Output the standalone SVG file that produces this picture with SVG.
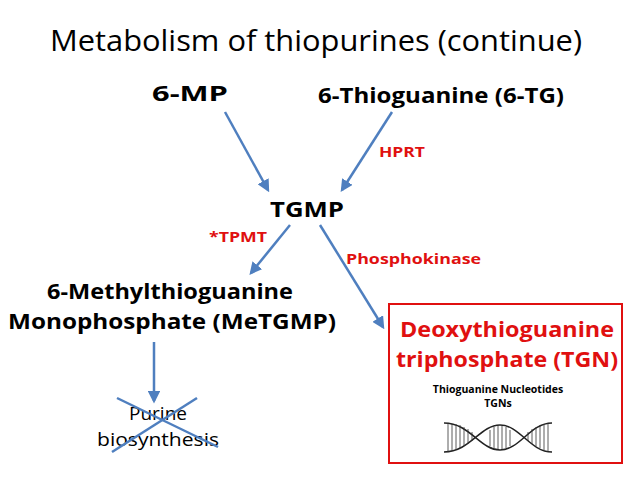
<svg xmlns="http://www.w3.org/2000/svg" width="638" height="479" viewBox="0 0 638 479">
<defs>
<style>
text{font-family:"Open Sans","Liberation Sans",sans-serif;}
.n{font-size:21px;font-weight:bold;fill:#000;text-anchor:middle}
.e{font-size:15px;font-weight:bold;fill:#e01010}
.c{stroke:#4f7fbf;stroke-width:2.5;fill:none;marker-end:url(#a)}
.x{stroke:#4f7fbf;stroke-width:2.5}
</style>
<marker id="a" viewBox="0 0 10 10" refX="8" refY="5" markerWidth="5" markerHeight="5" orient="auto"><path d="M0,0 L10,5 L0,10 z" fill="#4f7fbf"/></marker>
</defs>
<rect width="638" height="479" fill="#fff"/>
<text x="316" y="51" font-size="29" text-anchor="middle" fill="#000" textLength="532" lengthAdjust="spacingAndGlyphs">Metabolism of thiopurines (continue)</text>
<g id="mp"><text class="n" x="190" y="101" textLength="76" lengthAdjust="spacingAndGlyphs">6-MP</text></g>
<g id="tg"><text class="n" x="441" y="103" textLength="246" lengthAdjust="spacingAndGlyphs">6-Thioguanine (6-TG)</text></g>
<g id="tgmp"><text class="n" x="307" y="217" textLength="74" lengthAdjust="spacingAndGlyphs">TGMP</text></g>
<g id="metgmp"><text class="n" x="170" y="299" textLength="246" lengthAdjust="spacingAndGlyphs">6-Methylthioguanine</text><text class="n" x="172" y="329" textLength="328" lengthAdjust="spacingAndGlyphs">Monophosphate (MeTGMP)</text></g>
<g id="purine"><text x="158" y="420" font-size="19" text-anchor="middle">Purine</text><text x="158" y="446" font-size="19" text-anchor="middle" textLength="122" lengthAdjust="spacingAndGlyphs">biosynthesis</text>
<line class="x" x1="117" y1="398" x2="218" y2="447"/><line class="x" x1="197" y1="398" x2="112" y2="452"/></g>
<g id="tgn">
<rect x="389" y="304" width="233" height="159" fill="#fff" stroke="#e01010" stroke-width="2"/>
<text x="507" y="337" font-size="21" font-weight="bold" fill="#e01010" text-anchor="middle" textLength="214" lengthAdjust="spacingAndGlyphs">Deoxythioguanine</text>
<text x="507" y="367" font-size="21" font-weight="bold" fill="#e01010" text-anchor="middle" textLength="222" lengthAdjust="spacingAndGlyphs">triphosphate (TGN)</text>
<text x="498" y="393" font-size="10.5" font-weight="bold" font-family="Liberation Sans,sans-serif" text-anchor="middle">Thioguanine Nucleotides</text>
<text x="498" y="407" font-size="10.5" font-weight="bold" font-family="Liberation Sans,sans-serif" text-anchor="middle">TGNs</text>
<g stroke="#222" fill="none" stroke-width="1.5">
<path d="M444,423 C470,423 480,450 500,450 C520,450 530,423 552,423"/>
<path d="M444,452 C470,452 480,425 500,425 C520,425 530,452 552,452"/>
</g>
<g stroke="#333" stroke-width="0.8">
<path d="M448,423V452M452,424V451M456,424V450M460,425V448M464,427V446M468,429V444M472,432V441M528,432V441M532,429V444M536,427V446M540,425V448M544,424V450M548,423V452M490,430V446M494,427V448M498,426V449M502,426V449M506,427V448M510,430V446"/>
</g>
</g>
<g id="connectors">
<line class="c" x1="225" y1="112" x2="268" y2="190"/>
<line class="c" x1="392" y1="112" x2="342" y2="190"/>
<line class="c" x1="290" y1="225" x2="251" y2="273"/>
<line class="c" x1="320" y1="225" x2="383" y2="327"/>
<line class="c" x1="154" y1="342" x2="154" y2="401"/>
</g>
<text class="e" x="379" y="157" textLength="46" lengthAdjust="spacingAndGlyphs">HPRT</text>
<text class="e" x="209" y="242" textLength="58" lengthAdjust="spacingAndGlyphs">*TPMT</text>
<text class="e" x="346" y="264" textLength="135" lengthAdjust="spacingAndGlyphs">Phosphokinase</text>
</svg>
